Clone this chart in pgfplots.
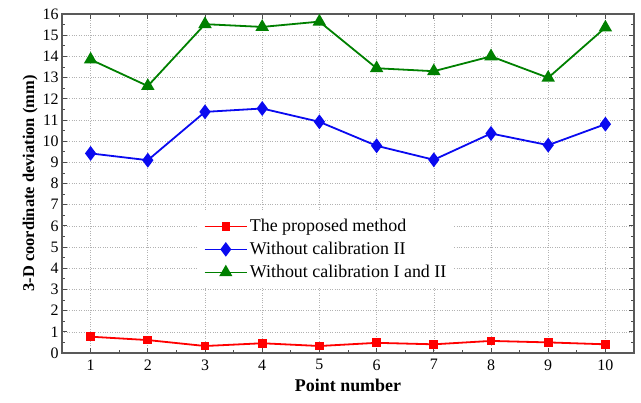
\documentclass[border=0pt]{standalone}
\usepackage{pgfplots}
\pgfplotsset{compat=1.18}
\usepackage{fontspec}
\setmainfont{Liberation Serif}
\definecolor{cred}{RGB}{255,0,0}
\definecolor{cblue}{RGB}{10,10,240}
\definecolor{cgreen}{RGB}{0,128,0}
\begin{document}
\begin{tikzpicture}[font=\rmfamily]
\begin{axis}[
  scale only axis,
  width=572bp, height=339bp,
  xmin=0.5, xmax=10.5, ymin=0, ymax=16,
  xtick={1,...,10}, ytick={0,1,...,16},
  xticklabels={1,2,3,4,5,6,7,8,9,10},
  yticklabels={0,1,2,3,4,5,6,7,8,9,10,11,12,13,14,15,16},
  minor x tick num=1, minor y tick num=1,
  tick align=inside, tick pos=both,
  major tick length=5bp, minor tick length=3bp,
  every tick/.style={gray!60!black, line width=0.8bp},
  axis line style={gray!70!black, line width=1.2bp},
  grid=major,
  major grid style={gray!60, dotted, line width=0.6bp},
  tick label style={font=\rmfamily\fontsize{16}{16}\selectfont},
  xticklabel style={yshift=-3bp},
  xlabel={\textbf{Point number}},
  ylabel={\textbf{3-D coordinate deviation (mm)}},
  xlabel style={font=\rmfamily\fontsize{18}{18}\selectfont, yshift=-2bp},
  ylabel style={font=\rmfamily\fontsize{16.5}{16.5}\selectfont, yshift=-2bp},
  legend style={at={(0.237,0.418)}, anchor=north west, draw=none, fill=white,
    font=\rmfamily\fontsize{18}{18}\selectfont, row sep=5bp, inner sep=6bp},
  legend cell align=left,
  legend image code/.code={\draw[mark repeat=2,mark phase=2,line width=1.6bp] plot coordinates {(0cm,0cm) (0.75cm,0cm) (1.5cm,0cm)};},
]
\addplot[cred, line width=1.8bp, mark=square*, mark size=3.5bp, mark options={solid}] coordinates {
(1,0.77) (2,0.61) (3,0.33) (4,0.46) (5,0.33) (6,0.48) (7,0.41) (8,0.57) (9,0.5) (10,0.41)};
\addlegendentry{The proposed method}
\addplot[cblue, line width=1.8bp, mark=diamond*, mark size=6bp] coordinates {
(1,9.42) (2,9.1) (3,11.38) (4,11.54) (5,10.91) (6,9.78) (7,9.12) (8,10.36) (9,9.81) (10,10.8)};
\addlegendentry{Without calibration II}
\addplot[cgreen, line width=1.8bp, mark=triangle*, mark size=6bp] coordinates {
(1,13.85) (2,12.6) (3,15.52) (4,15.39) (5,15.64) (6,13.44) (7,13.3) (8,14.0) (9,12.99) (10,15.36)};
\addlegendentry{Without calibration I and II}
\end{axis}
\path ([shift={(-62bp,-50bp)}]current axis.south west) rectangle ([shift={(7bp,14bp)}]current axis.north east);
\end{tikzpicture}
\end{document}
